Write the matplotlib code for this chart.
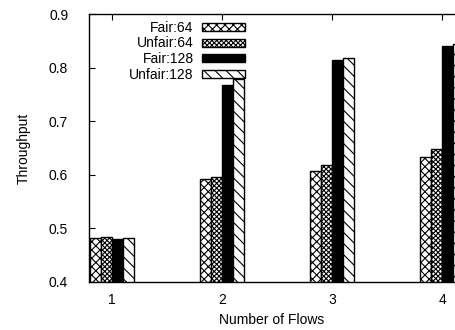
import matplotlib.pyplot as plt
import numpy as np

plt.rcParams['font.family'] = ['Liberation Sans', 'DejaVu Sans']
plt.rcParams['hatch.linewidth'] = 0.8

flows = [1, 2, 3, 4]
fair64 = [0.483, 0.592, 0.608, 0.633]
unfair64 = [0.484, 0.595, 0.618, 0.649]
fair128 = [0.481, 0.768, 0.814, 0.840]
unfair128 = [0.482, 0.779, 0.818, 0.845]

fig = plt.figure(figsize=(4.55, 3.3), dpi=100)
ax = fig.add_axes([0.1956, 0.1455, 0.822, 0.812])

x = np.array(flows)
w = 0.1
ax.bar(x - 1.5 * w, fair64, w, color='white', edgecolor='black', hatch='xxxx', linewidth=1, label='Fair:64')
ax.bar(x - 0.5 * w, unfair64, w, color='white', edgecolor='black', hatch='xxxxxxx', linewidth=1, label='Unfair:64')
ax.bar(x + 0.5 * w, fair128, w, color='black', edgecolor='black', linewidth=1, label='Fair:128')
ax.bar(x + 1.5 * w, unfair128, w, color='white', edgecolor='black', hatch='\\\\\\', linewidth=1, label='Unfair:128')

ax.set_xlim(0.79, 4.19)
ax.set_ylim(0.4, 0.9)
ax.set_xticks(flows)
ax.set_yticks([0.4, 0.5, 0.6, 0.7, 0.8, 0.9])
ax.tick_params(direction='in', top=True, right=True, labelsize=10, length=4)
ax.tick_params(axis='y', pad=15)
ax.tick_params(axis='x', pad=8)
ax.set_xlabel('Number of Flows', fontsize=10)
ax.set_ylabel('Throughput', fontsize=10)
ax.xaxis.set_label_coords(0.489, -0.115)
ax.yaxis.set_label_coords(-0.155, 0.5)
for s in ax.spines.values():
    s.set_linewidth(1)

ax.legend(loc='upper right', bbox_to_anchor=(0.436, 1.0), frameon=False,
          markerfirst=False, fontsize=10, handlelength=3.1, handleheight=0.5,
          labelspacing=0.11, borderpad=0, handletextpad=0.6)

fig.savefig('out.png', dpi=100)
